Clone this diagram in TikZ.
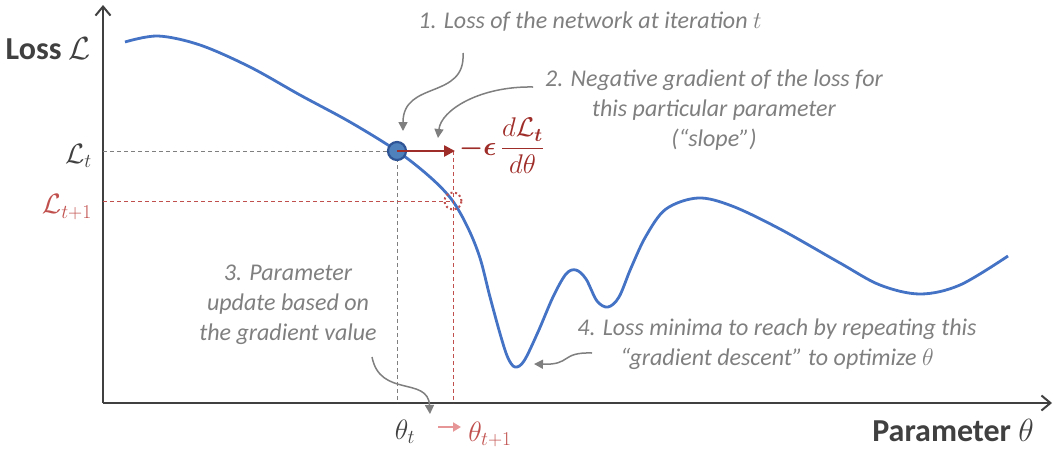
\RequirePackage{fix-cm}
\documentclass[tikz,border=0pt]{standalone}
\usepackage{amsmath}
\usepackage{bm}
\usepackage{fontspec}
\setmainfont{Carlito}
\usetikzlibrary{arrows.meta}
\definecolor{curveblue}{RGB}{68,114,196}
\definecolor{dotfill}{RGB}{79,129,189}
\definecolor{dotdraw}{RGB}{47,85,151}
\definecolor{darkred}{RGB}{158,44,40}
\definecolor{lred}{RGB}{192,80,77}
\definecolor{pinkarr}{RGB}{230,150,150}
\definecolor{annotc}{RGB}{127,127,127}
\definecolor{axisc}{RGB}{64,64,64}
\tikzset{
  axisline/.style={axisc, line width=2pt},
  axislbl/.style={text=axisc, font=\fontsize{32}{36}\selectfont\bfseries, inner sep=0pt},
  mathlbl/.style={font=\fontsize{28}{34}\selectfont, inner sep=0pt},
  annot/.style={text=annotc, font=\fontsize{24}{30}\selectfont\itshape, align=center, inner sep=0pt},
  annarrow/.style={annotc, line width=1.5pt, -{Triangle[length=9pt,width=9pt]}},
  graydash/.style={annotc, line width=1pt, dash pattern=on 4pt off 3pt},
  reddash/.style={lred, line width=1pt, dash pattern=on 4pt off 3pt},
}
\begin{document}
\begin{tikzpicture}[x=1pt,y=-1pt]
\useasboundingbox (0,0) rectangle (1054,450);
% axes
\coordinate (O) at (103,403);
\coordinate (ytop) at (103,5);
\coordinate (xend) at (1052,403);
\draw[axisline, -{Straight Barb[length=9pt,width=15pt]}] (O) -- (ytop);
\draw[axisline, -{Straight Barb[length=9pt,width=15pt]}] (O) -- (xend);
% loss curve
\draw[curveblue, line width=2.8pt] plot[smooth, tension=0.55] coordinates {
(125,42) (158,36) (200,45) (250,67) (300,95) (350,122) (397,151) (430,177)
(452,200) (468,228) (480,258) (490,297) (501,337) (508,358) (515,367) (524,361)
(538,332) (553,297) (566,274) (576,270) (586,279) (597,301) (608,307) (619,297)
(631,268) (646,236) (666,209) (698,198) (732,206) (780,229) (840,263) (880,285)
(920,294) (960,285) (1008,256)};
% guide lines
\coordinate (Lty) at (103,151);
\coordinate (Lt1y) at (103,201);
\coordinate (thx) at (397,403);
\coordinate (th1x) at (453,403);
\coordinate (tip) at (455,151);
\coordinate (nextpt) at (453,201);
\coordinate (tipv) at (453,151);
\draw[graydash] (Lty) -- (397,151);
\draw[graydash] (397,151) -- (thx);
\draw[reddash] (tipv) -- (th1x);
\draw[reddash] (Lt1y) -- (nextpt);
\draw[lred, line width=2pt, dash pattern=on 2pt off 2.6pt] (nextpt) circle (8.5pt);
% current point and gradient step
\node[circle, fill=dotfill, draw=dotdraw, line width=2.2pt, minimum size=18pt, inner sep=0pt] (dot) at (397,151) {};
\draw[darkred, line width=2.5pt, -{Triangle[length=11pt,width=11pt]}] (dot.center) -- (tip);
\node[text=darkred, font=\fontsize{27}{30}\selectfont, inner sep=0pt, anchor=west] (grad) at (459,146)
  {$\bm{-\epsilon}\,\dfrac{d\mathcal{L}_{\bm t}}{d\theta}$};
% axis labels
\node[axislbl, anchor=east] (losslbl) at (91,49) {Loss \mdseries$\mathcal{L}$};
\node[axislbl, anchor=east] (paramlbl) at (1034,430) {Parameter \mdseries$\theta$};
\node[mathlbl, text=axisc, anchor=east] (Ltl) at (92,156) {$\mathcal{L}_t$};
\node[mathlbl, text=lred, anchor=east] (Lt1l) at (92,207) {$\mathcal{L}_{t+1}$};
\node[mathlbl, text=axisc] (tht) at (405,432) {$\theta_t$};
\node[mathlbl, text=lred] (tht1) at (490,434) {$\theta_{t+1}$};
\coordinate (pa) at (438,427);
\coordinate (pb) at (461,427);
\draw[pinkarr, line width=2pt, -{Triangle[length=8pt,width=9pt]}] (pa) -- (pb);
% annotations
\node[annot] (t1) at (590,22) {1. Loss of the network at iteration $t$};
\node[annot] (t2) at (714,110) {2. Negative gradient of the loss for\\this particular parameter\\(“slope”)};
\node[annot] (t3) at (288,305) {3. Parameter\\update based on\\the gradient value};
\node[annot] (t4) at (777,344) {4. Loss minima to reach by repeating this\\“gradient descent” to optimize $\theta$};
\coordinate (a1s) at (463,53);
\coordinate (a1e) at (403,131);
\coordinate (a2s) at (533,87);
\coordinate (a2e) at (438,138);
\coordinate (a3s) at (372,357);
\coordinate (a3e) at (430,414);
\coordinate (a4s) at (592,353);
\coordinate (a4e) at (534,364);
\draw[annarrow] (a1s) .. controls (466,100) and (403,80) .. (a1e);
\draw[annarrow] (a2s) .. controls (480,86) and (441,110) .. (a2e);
\draw[annarrow] (a3s) .. controls (380,398) and (428,376) .. (a3e);
\draw[annarrow] (a4s) .. controls (560,352) and (572,365) .. (a4e);
\end{tikzpicture}
\end{document}
